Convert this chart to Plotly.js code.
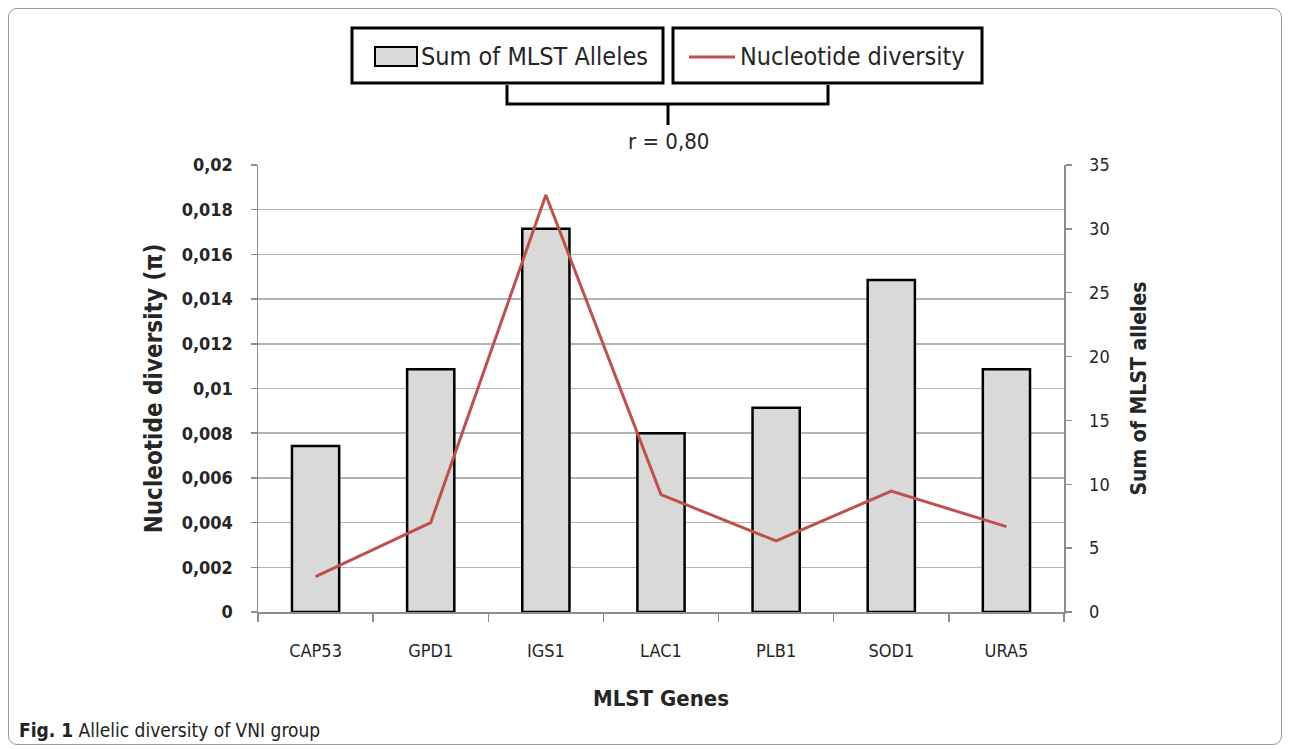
<!DOCTYPE html>
<html>
<head>
<meta charset="utf-8">
<script src="https://cdn.plot.ly/plotly-3.0.1.min.js"></script>
<style>
  html, body { margin: 0; padding: 0; background: #fff; }
  #frame { position: absolute; left: 8px; top: 8px; width: 1272px; height: 735px;
           border: 1px solid #9a9a9a; border-radius: 9px; }
  #chart { position: absolute; left: 0; top: 0; width: 1290px; height: 749px; }
</style>
</head>
<body>
<div id="frame"></div>
<div id="chart"></div>
<script>
// ---- data ----
const genes = ["CAP53", "GPD1", "IGS1", "LAC1", "PLB1", "SOD1", "URA5"];
const allelesSum = [13, 19, 30, 14, 16, 26, 19];
const nucleotideDiversity = [0.00158, 0.0040, 0.01866, 0.00525, 0.00318, 0.00541, 0.00382];
const leftTickVals = [0, 0.002, 0.004, 0.006, 0.008, 0.01, 0.012, 0.014, 0.016, 0.018, 0.02];
const leftTickText = ["0", "0,002", "0,004", "0,006", "0,008", "0,01", "0,012", "0,014", "0,016", "0,018", "0,02"];
const rightTickVals = [0, 5, 10, 15, 20, 25, 30, 35];
const barSeriesName = "Sum of MLST Alleles";
const lineSeriesName = "Nucleotide diversity";
const correlationText = "r = 0,80";
const caption = "<b>Fig. 1</b> Allelic diversity of VNI group";

// ---- layout helpers (pixel -> paper) ----
const W = 1290, H = 749;
const M = { l: 258, r: 226, t: 165, b: 137 };
const PW = W - M.l - M.r, PH = H - M.t - M.b;
const px = x => (x - M.l) / PW;
const py = y => (H - M.b - y) / PH;

const FONT = "'DejaVu Sans Condensed', 'Noto Sans', sans-serif";
const TXT = "#262626";

const traces = [
  {
    type: "bar", name: barSeriesName, x: genes, y: allelesSum, xaxis: "x", yaxis: "y",
    marker: { color: "#d9d9d9", line: { color: "#000", width: 2.5 } },
    showlegend: false, hoverinfo: "x+y"
  },
  {
    type: "scatter", mode: "lines", name: lineSeriesName, x: genes, y: nucleotideDiversity, xaxis: "x", yaxis: "y2",
    line: { color: "#c0504d", width: 3 },
    showlegend: false
  }
];

const shapes = [
  { type: "rect", xref: "paper", yref: "paper", x0: px(352), x1: px(663), y0: py(28), y1: py(83),
    line: { color: "#000", width: 3 }, fillcolor: "rgba(0,0,0,0)" },
  { type: "rect", xref: "paper", yref: "paper", x0: px(673), x1: px(982), y0: py(28), y1: py(83),
    line: { color: "#000", width: 3 }, fillcolor: "rgba(0,0,0,0)" },
  { type: "rect", xref: "paper", yref: "paper", x0: px(375), x1: px(417), y0: py(47), y1: py(66),
    line: { color: "#000", width: 2 }, fillcolor: "#d9d9d9" },
  { type: "line", xref: "paper", yref: "paper", x0: px(689), x1: px(735), y0: py(57), y1: py(57),
    line: { color: "#c0504d", width: 3 } },
  { type: "path", xref: "paper", yref: "paper",
    path: `M ${px(507)} ${py(85)} L ${px(507)} ${py(104)} L ${px(828)} ${py(104)} L ${px(828)} ${py(85)}`,
    line: { color: "#000", width: 3 } },
  { type: "line", xref: "paper", yref: "paper", x0: px(668), x1: px(668), y0: py(104), y1: py(125),
    line: { color: "#000", width: 3 } }
];

const annotations = [
  { xref: "paper", yref: "paper", x: px(419), y: py(57), xanchor: "left", yanchor: "middle",
    text: barSeriesName, showarrow: false, font: { family: FONT, size: 25, color: TXT } },
  { xref: "paper", yref: "paper", x: px(738), y: py(57), xanchor: "left", yanchor: "middle",
    text: lineSeriesName, showarrow: false, font: { family: FONT, size: 25, color: TXT } },
  { xref: "paper", yref: "paper", x: px(668), y: py(142), xanchor: "center", yanchor: "middle",
    text: correlationText, showarrow: false, font: { family: FONT, size: 22, color: TXT } },
  { xref: "paper", yref: "paper", x: px(17), y: py(730), xanchor: "left", yanchor: "middle",
    text: caption, showarrow: false, font: { family: FONT, size: 19, color: "#222" } }
];

const layout = {
  width: W, height: H,
  margin: M,
  paper_bgcolor: "rgba(0,0,0,0)", plot_bgcolor: "#fff",
  separators: ",.",
  font: { family: FONT, color: TXT },
  bargap: 0.59,
  xaxis: {
    type: "category",
    showline: true, linecolor: "#8c8c8c", linewidth: 1.5,
    ticks: "outside", tickson: "boundaries", ticklen: 8, tickcolor: "#8c8c8c", tickwidth: 1.5,
    tickfont: { family: FONT, size: 18, color: TXT },
    ticklabelstandoff: 22,
    title: { text: "<b>MLST Genes</b>", font: { family: FONT, size: 22, color: TXT }, standoff: 30 },
    automargin: false, fixedrange: true
  },
  // bars: right-hand axis
  yaxis: {
    side: "right",
    range: [0, 35], tickvals: rightTickVals,
    showline: true, linecolor: "#8c8c8c", linewidth: 1.5,
    ticks: "outside", ticklen: 6, tickcolor: "#8c8c8c", tickwidth: 1.5,
    showgrid: false, zeroline: false,
    tickfont: { family: FONT, size: 18, color: TXT },
    ticklabelstandoff: 14,
    title: { text: "<b>Sum of MLST alleles</b>", font: { family: FONT, size: 21, color: TXT }, standoff: 22 },
    automargin: false, fixedrange: true
  },
  // line: left-hand axis, drawn on top of the bars
  yaxis2: {
    overlaying: "y", side: "left",
    range: [0, 0.02],
    tickvals: leftTickVals, ticktext: leftTickText,
    showline: true, linecolor: "#8c8c8c", linewidth: 1.5,
    ticks: "outside", ticklen: 6, tickcolor: "#8c8c8c", tickwidth: 1.5,
    showgrid: true, gridcolor: "#b4b4b4", gridwidth: 1.5,
    zeroline: false,
    tickfont: { family: FONT, size: 18, color: TXT, weight: "bold" },
    ticklabelstandoff: 14,
    title: { text: "<b>Nucleotide diversity (π)</b>", font: { family: FONT, size: 24, color: TXT }, standoff: 12 },
    automargin: false, fixedrange: true
  },
  shapes: shapes,
  annotations: annotations
};

Plotly.newPlot("chart", traces, layout, { displayModeBar: false, staticPlot: true });
</script>
</body>
</html>
